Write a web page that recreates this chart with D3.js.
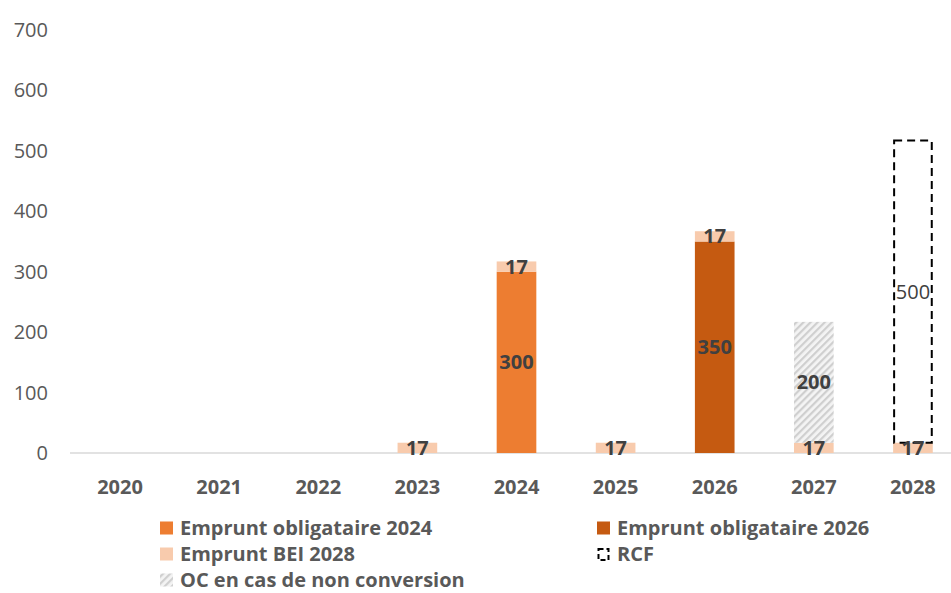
<!DOCTYPE html>
<html><head><meta charset="utf-8">
<script src="https://cdn.jsdelivr.net/npm/d3@7/dist/d3.min.js"></script>
<style>body{margin:0;background:#fff}svg{display:block}</style>
</head><body>
<svg id="c" width="951" height="593"></svg>
<script>
const years = ["2020","2021","2022","2023","2024","2025","2026","2027","2028"];
const emprunt2024 = [0,0,0,0,300,0,0,0,0];
const emprunt2026 = [0,0,0,0,0,0,350,0,0];
const bei2028 = [0,0,0,17,17,17,17,17,17];
const ocNonConversion = [0,0,0,0,0,0,0,200,0];
const rcf = [0,0,0,0,0,0,0,0,500];
const yTicks = [0,100,200,300,400,500,600,700];

const seriesNames = ["Emprunt obligataire 2024","Emprunt obligataire 2026","Emprunt BEI 2028","OC en cas de non conversion","RCF"];
const seriesValues = [emprunt2024, emprunt2026, bei2028, ocNonConversion, rcf];

const svg = d3.select("#c");
const font = "'Open Sans', sans-serif";
const defs = svg.append("defs");
const pat = defs.append("pattern").attr("id","hatch").attr("patternUnits","userSpaceOnUse")
  .attr("width",5).attr("height",5).attr("patternTransform","rotate(45)");
pat.append("rect").attr("width",5).attr("height",5).attr("fill","#f4f4f4");
pat.append("rect").attr("x",0).attr("width",2.2).attr("height",5).attr("fill","#cfcfcf");

const x = d3.scaleBand().domain(years).range([70.5, 962.5]).paddingInner(0.6).paddingOuter(0.3);
const y = d3.scaleLinear().domain([0,700]).range([453,30]);

// y axis labels
svg.append("g").selectAll("text").data(yTicks).join("text")
  .attr("x",48).attr("y",d=>y(d)).attr("dy","0.35em").attr("text-anchor","end")
  .attr("font-family",font).attr("font-size",20).attr("fill","#595959").text(d=>d);

// x axis line
svg.append("line").attr("x1",70).attr("x2",951).attr("y1",y(0)).attr("y2",y(0))
  .attr("stroke","#d9d9d9").attr("stroke-width",1.5);

// x labels
svg.append("g").selectAll("text").data(years).join("text")
  .attr("x",d=>x(d)+x.bandwidth()/2).attr("y",487).attr("dy","0.35em").attr("text-anchor","middle")
  .attr("font-family",font).attr("font-weight","bold").attr("font-size",20).attr("fill","#595959").text(d=>d);

const table = years.map((yr,i)=>{const o={year:yr}; seriesNames.forEach((n,k)=>o[n]=seriesValues[k][i]); return o;});
const stacked = d3.stack().keys(seriesNames)(table);
const fills = {
  "Emprunt obligataire 2024":"#ED7D31",
  "Emprunt obligataire 2026":"#C55A11",
  "Emprunt BEI 2028":"#F8CBAD",
  "OC en cas de non conversion":"url(#hatch)",
  "RCF":"none"
};

stacked.forEach(s=>{
  const g = svg.append("g");
  const data = s.map((d,i)=>({y0:d[0],y1:d[1],year:years[i],v:d[1]-d[0]})).filter(d=>d.v>0);
  g.selectAll("rect").data(data).join("rect")
    .attr("x",d=>x(d.year)+(s.key==="RCF"?1:0))
    .attr("width",x.bandwidth()-(s.key==="RCF"?2:0))
    .attr("y",d=>y(d.y1)).attr("height",d=>y(d.y0)-y(d.y1))
    .attr("fill",fills[s.key])
    .attr("stroke",s.key==="RCF"?"#000":"none")
    .attr("stroke-width",2).attr("stroke-dasharray",s.key==="RCF"?"8,5":null);
});
// labels
stacked.forEach(s=>{
  const data = s.map((d,i)=>({y0:d[0],y1:d[1],year:years[i],v:d[1]-d[0]})).filter(d=>d.v>0);
  svg.append("g").selectAll("text").data(data).join("text")
    .attr("x",d=>x(d.year)+x.bandwidth()/2).attr("y",d=>(y(d.y0)+y(d.y1))/2).attr("dy","0.35em")
    .attr("text-anchor","middle").attr("font-family",font)
    .attr("font-weight",s.key==="RCF"?"normal":"bold").attr("font-size",20)
    .attr("fill","#404040").text(d=>d.v);
});

// legend
const legendItems = [
  {name:"Emprunt obligataire 2024",x:160,y:528},
  {name:"Emprunt obligataire 2026",x:597,y:528},
  {name:"Emprunt BEI 2028",x:160,y:554},
  {name:"RCF",x:597,y:554},
  {name:"OC en cas de non conversion",x:160,y:580}
];
const lg = svg.append("g");
legendItems.forEach(it=>{
  if(it.name==="RCF"){
    lg.append("rect").attr("x",it.x+1.5).attr("y",it.y-5).attr("width",10).attr("height",11)
      .attr("fill","none").attr("stroke","#000").attr("stroke-width",2).attr("stroke-dasharray","5,3");
  } else {
    lg.append("rect").attr("x",it.x).attr("y",it.y-6.5).attr("width",13).attr("height",13).attr("fill",fills[it.name]);
  }
  lg.append("text").attr("x",it.x+20).attr("y",it.y).attr("dy","0.35em")
    .attr("font-family",font).attr("font-weight","bold").attr("font-size",20).attr("fill","#595959").text(it.name);
});
</script>
</body></html>
